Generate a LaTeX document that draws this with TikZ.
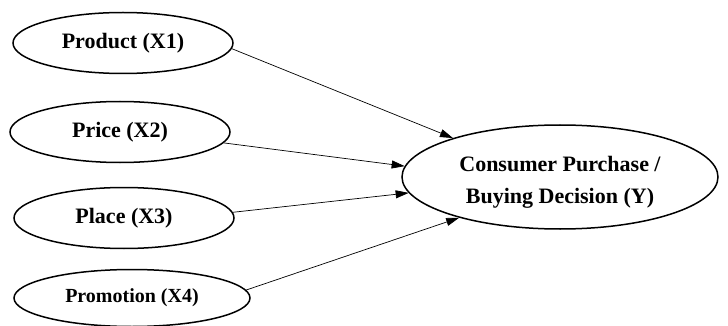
\documentclass[tikz,border=0pt]{standalone}
\usepackage{fontspec}
\setmainfont{Liberation Serif}
\usetikzlibrary{shapes.geometric,arrows.meta}
\begin{document}
\begin{tikzpicture}[x=1pt,y=-1pt,
  factor/.style={ellipse,draw,line width=1.5pt,inner sep=0pt,minimum width=220pt,minimum height=61pt,
    font=\fontsize{22}{26}\selectfont\bfseries},
  link/.style={line width=0.7pt,-{Triangle[length=13pt,width=8pt]}}]
\useasboundingbox (0,0) rectangle (728,326);
\node[factor] (prod) at (123,43) {Product (X1)};
\node[factor] (price) at (120,132) {Price (X2)};
\node[factor] (place) at (124,218) {Place (X3)};
\node[factor,minimum width=236pt,minimum height=57pt,font=\fontsize{20}{24}\selectfont\bfseries] (promo) at (132,298) {Promotion (X4)};
\node[ellipse,draw,line width=1.5pt,inner sep=0pt,minimum width=316pt,minimum height=104pt,
  font=\fontsize{22}{32}\selectfont\bfseries] (cons) at (560,177)
  {\raisebox{-4pt}[\height][\depth]{\begin{tabular}{@{}c@{}}Consumer Purchase /\\Buying Decision (Y)\end{tabular}}};
\draw[link] (prod.-3) -- (cons.160);
\draw[link] (price.-6) -- (cons.176);
\draw[link] (place.3) -- (cons.186);
\draw[link] (promo.4) -- (cons.202);
\end{tikzpicture}
\end{document}
